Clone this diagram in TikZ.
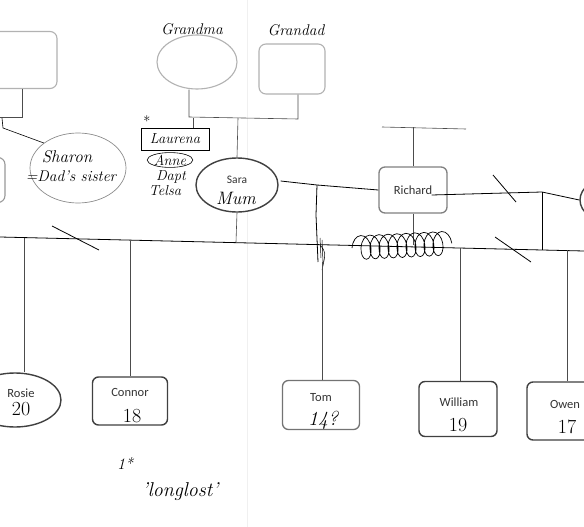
\documentclass[tikz,border=0pt]{standalone}
\usepackage{fontspec}
\setsansfont{Carlito}
\usetikzlibrary{decorations.pathmorphing,shapes.geometric}
\begin{document}
\begin{tikzpicture}[x=1pt,y=-1pt,
  pale/.style={draw=black!30, line width=1.1pt, rounded corners=7pt, fill=white},
  dark/.style={draw=black!75, line width=1.4pt, rounded corners=6pt, fill=white, align=center},
  midbox/.style={draw=black!55, line width=1.3pt, rounded corners=6pt, fill=white, align=center},
  oval/.style={ellipse, draw=black!75, line width=1.4pt, fill=white, align=center},
  hand/.style={font=\itshape\fontsize{15.5}{16}\selectfont},
  handsm/.style={font=\itshape\fontsize{14.5}{15}\selectfont},
  digits/.style={font=\fontsize{20}{22}\selectfont},
  pen/.style={draw=black, line width=0.8pt},
  conn/.style={draw=black!70, line width=0.6pt},
  lbl/.style={font=\sffamily\fontsize{12.5}{14}\selectfont, text=black!80}
]
\useasboundingbox (0,0) rectangle (584,527);
\clip (0,0) rectangle (584,527);
\fill[white] (0,0) rectangle (584,527);
\draw[black!6, line width=0.6pt] (247,0) -- (247,527);

% top generation
\node[pale, minimum width=68pt, minimum height=57pt] (tl) at (23,60) {};
\node[ellipse, draw=black!30, line width=1.1pt, minimum width=80pt, minimum height=54pt] (gma) at (197,62) {};
\node[hand] (gmal) at (192,29) {Grandma};
\node[pale, minimum width=66pt, minimum height=50pt] (gpa) at (292,69) {};
\node[hand] (gpal) at (296,30) {Grandad};

% left small box
\node[pale, draw=black!40, minimum width=60pt, minimum height=45pt] (lb) at (-25,180) {};

% Sharon
\node[ellipse, draw=black!45, line width=0.7pt, minimum width=96pt, minimum height=70pt] (sharon) at (78,168) {};
\node[font=\itshape\fontsize{17}{18}\selectfont] (shn) at (67,157) {Sharon};
\node[hand] (shd) at (71,176) {=Dad's sister};

% Laurena & Anne
\node[draw=black, line width=0.8pt, minimum width=68pt, minimum height=22pt, inner sep=1pt, handsm] (laur) at (175,139) {Laurena};
\node[font=\Large] (star) at (147,121) {*};
\node[ellipse, draw=black, line width=0.6pt, inner sep=0pt, handsm] (anne) at (170,160) {Anne};
\node[handsm] (dapt) at (171,177) {Dapt};
\node[handsm] (telsa) at (165,191) {Telsa};

% Sara
\node[oval, minimum width=82pt, minimum height=54pt] (sara) at (237,185) {};
\node[lbl, font=\sffamily\fontsize{11.5}{12}\selectfont] (saral) at (237,180) {Sara};
\node[font=\itshape\fontsize{18}{19}\selectfont] (mum) at (236,198) {Mum};

% Richard
\node[midbox, draw=black!50, minimum width=68pt, minimum height=46pt, lbl] (rich) at (413,190) {Richard};
\coordinate (rtl) at (382,127);
\coordinate (rtr) at (466,129);

% right partial ellipse
\node[oval, minimum width=60pt, minimum height=44pt] (rell) at (610,200) {};

% children
\node[oval, minimum width=92pt, minimum height=54pt] (rosie) at (15,400) {};
\node[lbl] at (21,393) {Rosie};
\node[digits] at (21,409) {20};
\node[dark, minimum width=75pt, minimum height=48pt] (connor) at (130,401) {};
\node[lbl] at (130,392) {Connor};
\node[digits] at (132,416) {18};
\node[midbox, minimum width=77pt, minimum height=49pt] (tom) at (321,405) {};
\node[lbl] at (321,398) {Tom};
\node[digits, font=\itshape\fontsize{20}{22}\selectfont] at (323,420) {14?};
\node[dark, minimum width=78pt, minimum height=55pt] (will) at (458,409) {};
\node[lbl] at (459,402) {William};
\node[digits] at (458,425) {19};
\node[dark, minimum width=76pt, minimum height=58pt] (owen) at (565,411) {};
\node[lbl] at (565,404) {Owen};
\node[digits] at (567,427) {17};

% note
\node[font=\itshape\fontsize{16}{17}\selectfont] (n1) at (125,463) {1*};
\node[font=\itshape\fontsize{20}{22}\selectfont] (n2) at (180,492) {'longlost'};

% main horizontal line
\coordinate (ml) at (0,237);
\coordinate (mr) at (584,251);
\draw[pen] (ml) -- (mr);

% top-left connectors
\coordinate (tlb) at (22,117);
\draw[conn] (tl.south -| tlb) -- (tlb) -- (0,117);
\coordinate (sh0) at (2,118);
\draw[pen, line width=0.6pt] (sh0) -- (3,128) -- (sharon.north west);

% grandparents
\coordinate (gj1) at (189,117);
\coordinate (gj2) at (298,119);
\coordinate (gmid) at (238,118);
\draw[conn] (gma.south -| gj1) -- (gj1) -- (gj2) -- (gpa.south -| gj2);
\draw[conn] (gmid) -- (sara.north);
\coordinate (lj) at (193,118);
\draw[conn] (lj) -- (laur.north -| lj);
\draw[conn] (sara.south) -- (236,242);

% Sara - Richard
\coordinate (sr1) at (317,185);
\draw[pen] (sara.east) ++(2,-4) -- (sr1) -- (rich.west);
\draw[pen] (sr1) -- (316,215) -- (318,262);
\draw[pen, line width=0.5pt] (320,238) -- (321,258) (322,240) -- (323,262) (320,245) .. controls (326,252) .. (322,270);
\draw[conn] (rtl) -- (rtr);
\draw[conn] (rich.north) -- (rich.north |- rtl);
\draw[conn] (rich.south) -- (413,245);
\draw[pen, line width=0.7pt, decorate, decoration={coil, amplitude=12pt, segment length=9pt, aspect=0.6}] (352,248) -- (452,243);

% Richard - right
\coordinate (rr1) at (542,192);
\draw[pen] (rich.east) ++(-16,5) -- (rr1) -- (rell.west);
\draw[pen] (rr1) -- (542,250);
\draw[pen] (493,175) -- (516,202);
\draw[pen] (495,237) -- (531,262);
\draw[pen] (52,226) -- (99,250);

% children connectors
\draw[conn] (24,238) -- (rosie.north -| 24,0);
\draw[conn] (130,241) -- (connor.north);
\draw[conn] (322,262) -- (tom.north -| 322,0);
\draw[conn] (460,248) -- (will.north -| 460,0);
\draw[conn] (567,250) -- (owen.north -| 567,0);
\end{tikzpicture}
\end{document}
